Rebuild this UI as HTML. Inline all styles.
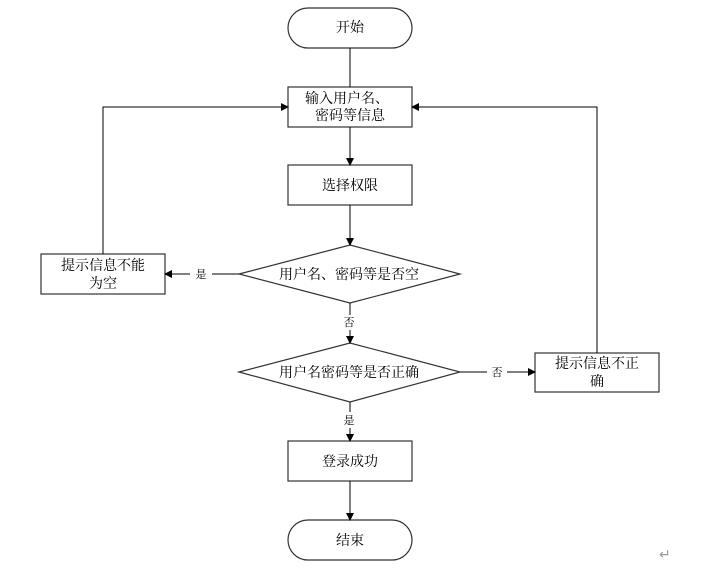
<!DOCTYPE html>
<html><head><meta charset="utf-8"><style>
html,body{margin:0;padding:0;background:#fff;}
svg{display:block;}
text{font-family:"Liberation Serif","Noto Serif CJK SC",serif;fill:#000;}
</style></head><body>
<svg width="720" height="571" viewBox="0 0 720 571" xmlns="http://www.w3.org/2000/svg">
<defs><marker id="a" markerWidth="8" markerHeight="8" refX="7" refY="4" orient="auto" markerUnits="userSpaceOnUse"><path d="M0,0 L8,4 L0,8 Z" fill="#000"/></marker></defs>
<g fill="#fff" stroke="#333" stroke-width="1.2">
<rect x="288" y="8" width="124" height="40" rx="20"/>
<rect x="288" y="87" width="124" height="40"/>
<rect x="288" y="165" width="124" height="40"/>
<polygon points="239,274 350,245 460,274 350,303"/>
<rect x="41" y="254" width="124" height="40"/>
<polygon points="239,372 350,343 460,372 350,402"/>
<rect x="535" y="353" width="124" height="39"/>
<rect x="288" y="441" width="124" height="40"/>
<rect x="288" y="520" width="124" height="40" rx="20"/>
</g>
<g stroke="#000" stroke-width="1" fill="none">
<line x1="350" y1="48" x2="350" y2="87"/>
<line x1="350" y1="127" x2="350" y2="165" marker-end="url(#a)"/>
<line x1="350" y1="205" x2="350" y2="245" marker-end="url(#a)"/>
<line x1="239" y1="274" x2="212" y2="274"/>
<line x1="190" y1="274" x2="165" y2="274" marker-end="url(#a)"/>
<polyline points="103,254 103,107 288,107" marker-end="url(#a)"/>
<line x1="350" y1="303" x2="350" y2="315"/>
<line x1="350" y1="330" x2="350" y2="343" marker-end="url(#a)"/>
<line x1="460" y1="372" x2="487" y2="372"/>
<line x1="507" y1="372" x2="535" y2="372" marker-end="url(#a)"/>
<polyline points="597,353 597,107 412,107" marker-end="url(#a)"/>
<line x1="350" y1="402" x2="350" y2="412"/>
<line x1="350" y1="428" x2="350" y2="441" marker-end="url(#a)"/>
<line x1="350" y1="481" x2="350" y2="520" marker-end="url(#a)"/>
</g>
<g font-size="14" text-anchor="middle">
<text x="350" y="32">开始</text>
<text x="347" y="103">输入用户名、</text>
<text x="350" y="120">密码等信息</text>
<text x="350" y="190">选择权限</text>
<text x="349" y="279">用户名、密码等是否空</text>
<text x="103" y="270">提示信息不能</text>
<text x="103" y="288">为空</text>
<text x="349" y="377">用户名密码等是否正确</text>
<text x="597" y="368">提示信息不正</text>
<text x="597" y="386">确</text>
<text x="350" y="466">登录成功</text>
<text x="350" y="545">结束</text>
</g>
<g font-size="11" text-anchor="middle">
<text x="201" y="278">是</text>
<text x="349" y="326">否</text>
<text x="497" y="376">否</text>
<text x="349" y="424">是</text>
</g>
<text x="659" y="559" font-size="14" fill="#999" style="fill:#999">↵</text>
</svg>
</body></html>
